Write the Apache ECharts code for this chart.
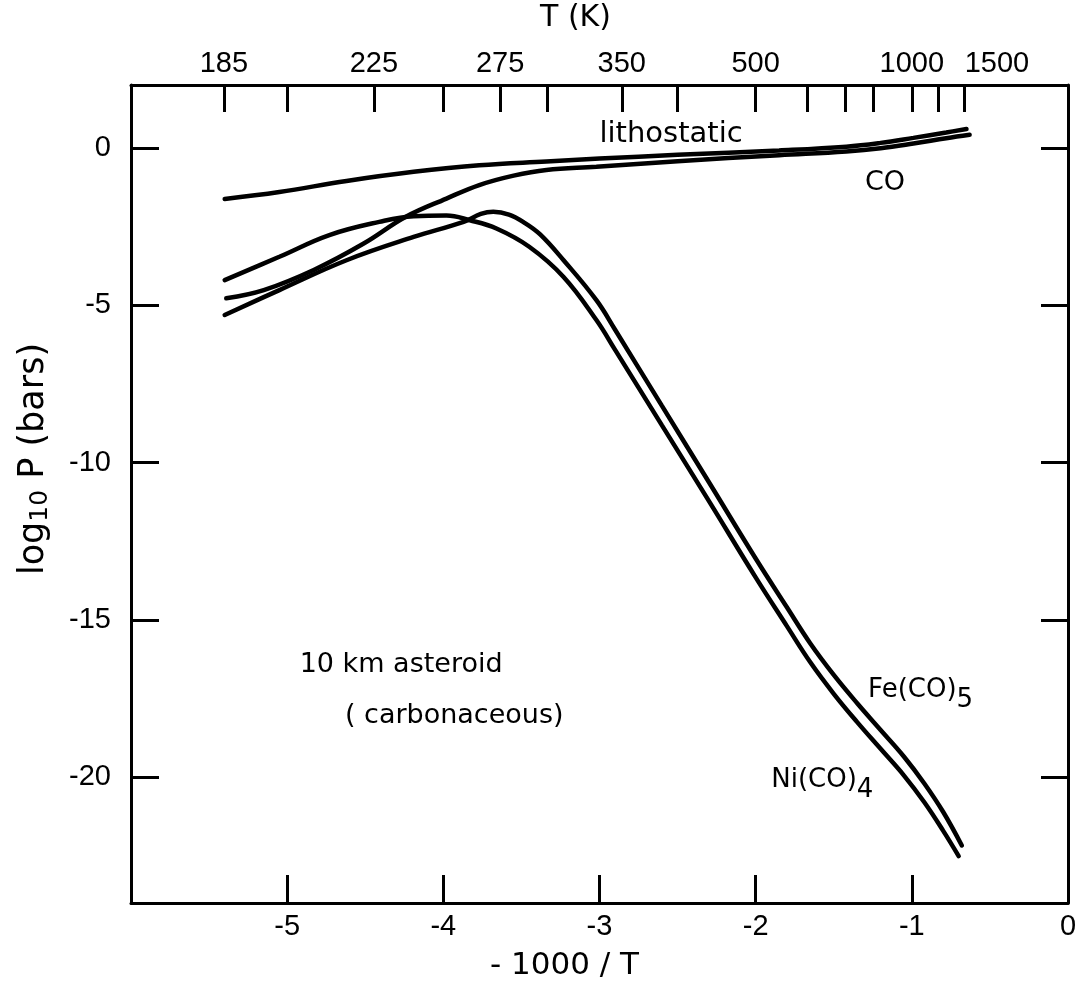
<!DOCTYPE html>
<html>
<head>
<meta charset="utf-8">
<title>log10 P vs -1000/T</title>
<script src="https://cdn.jsdelivr.net/npm/echarts@6/dist/echarts.min.js"></script>
<style>
  html, body { margin: 0; padding: 0; background: #fff; }
  #main { width: 1087px; height: 992px; }
</style>
</head>
<body>
<div id="main"></div>
<script>
// axis ticks and labels
var xTicks = [-5, -4, -3, -2, -1];
var xLabels = [-5, -4, -3, -2, -1, 0];
var yTicks = [-20, -15, -10, -5, 0];
var tempTicks = [185, 200, 225, 250, 275, 300, 350, 400, 500, 600, 700, 800, 1000, 1200, 1500];
var tempLabels = [185, 225, 275, 350, 500, 1000, 1500];

// curves: [-1000/T, log10 P]
var lithostatic = [
    [-5.40, -1.62], [-5.05, -1.40], [-4.62, -1.05], [-4.19, -0.76], [-3.77, -0.55],
    [-3.34, -0.43], [-3.00, -0.34], [-2.50, -0.22], [-1.85, -0.08], [-1.42, 0.04],
    [-1.20, 0.16], [-0.99, 0.32], [-0.78, 0.49], [-0.65, 0.60]
];
var co = [
    [-5.39, -4.78], [-5.15, -4.52], [-4.83, -3.88], [-4.51, -3.04], [-4.24, -2.19],
    [-3.98, -1.61], [-3.77, -1.18], [-3.55, -0.88], [-3.34, -0.70], [-3.02, -0.60],
    [-2.50, -0.42], [-1.85, -0.23], [-1.42, -0.11], [-1.20, -0.01], [-0.99, 0.14],
    [-0.78, 0.31], [-0.63, 0.42]
];
var feCO5 = [
    [-5.40, -5.31], [-5.05, -4.52], [-4.62, -3.57], [-4.19, -2.83], [-3.87, -2.35],
    [-3.76, -2.10], [-3.68, -2.03], [-3.58, -2.12], [-3.48, -2.38], [-3.38, -2.75],
    [-3.23, -3.57], [-3.02, -4.84], [-2.90, -5.78], [-2.60, -8.20], [-2.30, -10.62],
    [-2.00, -13.05], [-1.80, -14.60], [-1.65, -15.75], [-1.50, -16.75], [-1.35, -17.65],
    [-1.20, -18.50], [-1.05, -19.35], [-0.92, -20.20], [-0.80, -21.10], [-0.68, -22.17]
];
var niCO4 = [
    [-5.40, -4.20], [-5.05, -3.46], [-4.73, -2.77], [-4.41, -2.35], [-4.19, -2.17],
    [-3.98, -2.15], [-3.83, -2.30], [-3.66, -2.56], [-3.45, -3.14], [-3.23, -4.10],
    [-3.02, -5.47], [-2.90, -6.42], [-2.60, -8.82], [-2.30, -11.22], [-2.00, -13.65],
    [-1.80, -15.20], [-1.65, -16.35], [-1.50, -17.35], [-1.35, -18.25], [-1.20, -19.10],
    [-1.05, -19.95], [-0.92, -20.80], [-0.80, -21.70], [-0.70, -22.51]
];

// text on the plot: [x, y, text, fontSize]
var notes = [
    [-3.00, 0.42, 'lithostatic', 29],
    [-1.30, -1.10, 'CO', 27],
    [-4.92, -16.45, '10 km asteroid', 27],
    [-4.63, -18.05, '( carbonaceous)', 27],
    [-1.28, -17.25, 'Fe(CO){s|5}', 26],
    [-1.90, -20.10, 'Ni(CO){s|4}', 26]
];

var FONT = 'Liberation Sans';
var TEXTFONT = 'DejaVu Sans';
var chart = echarts.init(document.getElementById('main'));

function toX(t) { return -1000 / t; }

function curve(name, data) {
    return {
        name: name,
        type: 'line',
        data: data,
        smooth: 0.4,
        symbol: 'none',
        xAxisIndex: 0,
        yAxisIndex: 0,
        lineStyle: { color: '#000', width: 4.5, cap: 'round' },
        silent: true,
        z: 3
    };
}

var axisLineStyle = { onZero: false, lineStyle: { color: '#000', width: 3 } };

var option = {
    backgroundColor: '#fff',
    animation: false,
    grid: { left: 131, right: 19, top: 85, bottom: 89, containLabel: false, outerBoundsMode: 'none' },
    xAxis: [{
        type: 'value',
        position: 'bottom',
        min: -6, max: 0, interval: 1,
        name: '- 1000 / T',
        nameLocation: 'middle',
        nameGap: 47,
        nameMoveOverlap: false,
        nameTextStyle: { fontFamily: TEXTFONT, fontSize: 31, color: '#000', padding: [0, 70, 0, 0] },
        axisLine: axisLineStyle,
        axisTick: { inside: true, length: 28, customValues: xTicks, lineStyle: { color: '#000', width: 3 } },
        axisLabel: { customValues: xLabels, margin: 9, fontFamily: FONT, fontSize: 29, color: '#000' },
        splitLine: { show: false }
    }, {
        type: 'value',
        position: 'top',
        min: -6, max: 0,
        name: 'T (K)',
        nameLocation: 'middle',
        nameGap: 52,
        nameMoveOverlap: false,
        nameTextStyle: { fontFamily: TEXTFONT, fontSize: 30, color: '#000', padding: [0, 48, 0, 0] },
        axisLine: axisLineStyle,
        axisTick: { inside: true, length: 27, customValues: tempTicks.map(toX), lineStyle: { color: '#000', width: 3 } },
        axisLabel: {
            customValues: tempLabels.map(toX),
            margin: 7,
            fontFamily: FONT, fontSize: 29, color: '#000',
            formatter: function (v) {
                var t = Math.round(-1000 / v);
                return t === 1500 ? '{r|' + t + '}' : String(t);
            },
            rich: { r: { fontFamily: FONT, fontSize: 29, color: '#000', padding: [0, 0, 0, 66] } }
        },
        splitLine: { show: false }
    }],
    yAxis: [{
        type: 'value',
        position: 'left',
        min: -24, max: 2,
        name: '{a|log}{s|10}{a| P (bars)}',
        nameLocation: 'middle',
        nameGap: 78,
        nameMoveOverlap: false,
        nameRotate: 90,
        nameTextStyle: {
            padding: [0, 0, 0, 70],
            rich: {
                a: { fontFamily: TEXTFONT, fontSize: 35, color: '#000' },
                s: { fontFamily: TEXTFONT, fontSize: 25, color: '#000', padding: [14, 0, 0, 0] }
            }
        },
        axisLine: axisLineStyle,
        axisTick: { inside: true, length: 28, customValues: yTicks, lineStyle: { color: '#000', width: 3 } },
        axisLabel: { customValues: yTicks, margin: 20, fontFamily: FONT, fontSize: 29, color: '#000' },
        splitLine: { show: false }
    }, {
        type: 'value',
        position: 'right',
        min: -24, max: 2,
        axisLine: { show: true, onZero: false, lineStyle: { color: '#000', width: 3 } },
        axisTick: { show: true, inside: true, length: 27, customValues: yTicks, lineStyle: { color: '#000', width: 3 } },
        axisLabel: { show: false },
        splitLine: { show: false }
    }],
    series: [
        curve('lithostatic', lithostatic),
        curve('CO', co),
        curve('Fe(CO)5', feCO5),
        curve('Ni(CO)4', niCO4),
        {
            type: 'scatter',
            symbolSize: 0,
            silent: true,
            itemStyle: { opacity: 1, color: '#000' },
            data: notes.map(function (n) {
                return {
                    value: [n[0], n[1]],
                    label: {
                        fontSize: n[3],
                        rich: { s: { fontFamily: TEXTFONT, fontSize: n[3], color: '#000', padding: [20, 0, 0, 0] } }
                    },
                    text: n[2]
                };
            }),
            label: {
                show: true,
                position: 'inside',
                align: 'left',
                verticalAlign: 'middle',
                fontFamily: TEXTFONT,
                color: '#000',
                formatter: function (p) { return p.data.text; }
            }
        }
    ]
};

chart.setOption(option);
</script>
</body>
</html>
